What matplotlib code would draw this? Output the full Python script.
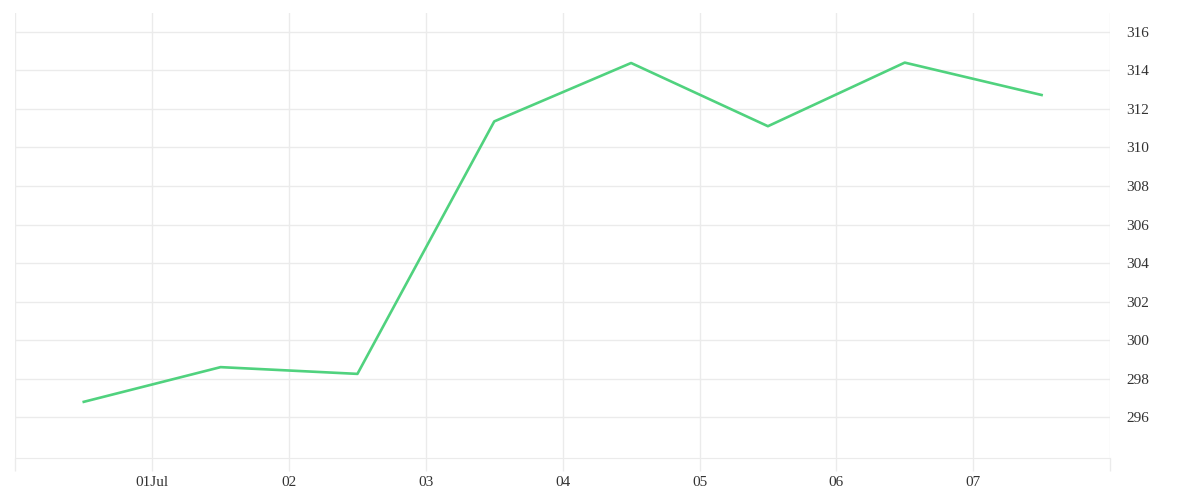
import pandas as pd
import matplotlib
matplotlib.use('Agg')
import matplotlib.pyplot as plt

# Значения (по одной точке в середине дня)
dates = pd.to_datetime(['2023-06-30 12:00', '2023-07-01 12:00', '2023-07-02 12:00',
                        '2023-07-03 12:00', '2023-07-04 12:00', '2023-07-05 12:00',
                        '2023-07-06 12:00', '2023-07-07 12:00'])
values = [296.8, 298.6, 298.25, 311.35, 314.38, 311.1, 314.4, 312.72]

tick_days = pd.date_range('2023-06-30', '2023-07-08', freq='D')
tick_labels = ['', '01Jul', '02', '03', '04', '05', '06', '07', '']
y_ticks = list(range(296, 317, 2))

grid_color = '#ebebeb'
text_color = '#333333'

plt.rcParams['font.family'] = ['Liberation Serif', 'DejaVu Serif']

fig = plt.figure(figsize=(12, 5), dpi=100)
ax = fig.add_axes([0.0128, 0.0834, 0.925 - 0.0128, 0.975 - 0.0834])

ax.plot(dates, values, color='#50d27e', linewidth=1.9)

ax.set_xlim(tick_days[0], tick_days[-1])
ax.set_ylim(293.87, 317.0)

ax.set_xticks(tick_days)
ax.set_xticklabels(tick_labels)
ax.set_yticks(y_ticks)

ax.yaxis.tick_right()
ax.tick_params(axis='x', colors=grid_color, length=9, width=1, labelcolor=text_color,
               labelsize=11, pad=4)
ax.tick_params(axis='y', length=0, labelcolor=text_color, labelsize=11, pad=12)
for lbl in ax.get_yticklabels():
    lbl.set_y(lbl.get_position()[1])
    lbl.set_verticalalignment('center_baseline')

ax.grid(True, color=grid_color, linewidth=1)
ax.set_axisbelow(True)

for side in ['top', 'left', 'right']:
    ax.spines[side].set_visible(False)
ax.spines['bottom'].set_color(grid_color)

fig.savefig('out.png', dpi=100, facecolor='white')
